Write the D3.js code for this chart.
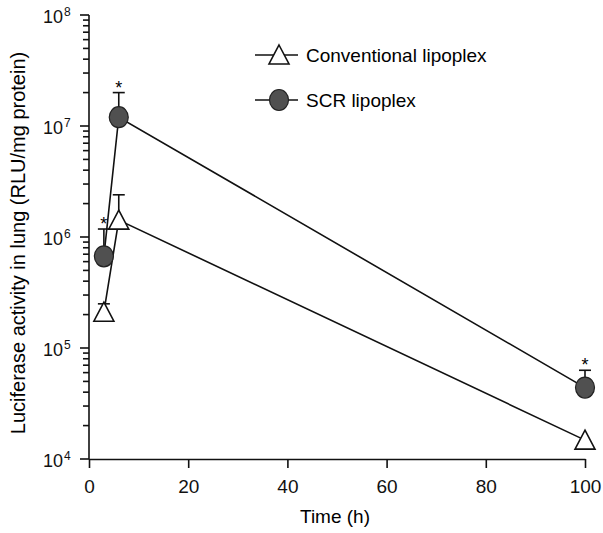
<!DOCTYPE html>
<html>
<head>
<meta charset="utf-8">
<title>Luciferase activity in lung</title>
<script src="https://d3js.org/d3.v7.min.js"></script>
<style>
  body { margin: 0; background: #fff; }
  svg { font-family: "Liberation Sans", Arial, Helvetica, sans-serif; }
  .axis path, .axis line { stroke: #111; stroke-width: 1.6; }
  .axis text { font-size: 19px; fill: #111; }
</style>
</head>
<body>
<div id="chart"></div>
<script>
// data (hours, RLU/mg protein)
const times = [3, 6, 100];
const conventional = [2.1e5, 1.42e6, 1.48e4];
const conventionalErr = [2.5e5, 2.4e6, null];
const scr = [6.7e5, 1.2e7, 4.4e4];
const scrErr = [1.18e6, 2.0e7, 6.3e4];
const scrStars = [true, true, true];

const xTicks = [0, 20, 40, 60, 80, 100];
const yDecades = [4, 5, 6, 7, 8];
const seriesNames = ["Conventional lipoplex", "SCR lipoplex"];

const width = 603, height = 533;

const svg = d3.select("#chart").append("svg")
    .attr("width", width)
    .attr("height", height);

let x = d3.scaleLinear().domain([0, 100]).range([89, 585]);
let y = d3.scaleLog().domain([1e4, 1e8]).range([459, 15]);

// x axis
const xAxis = svg.append("g")
    .attr("class", "axis")
    .attr("transform", "translate(0," + y(1e4) + ")")
    .call(d3.axisBottom(x).tickValues(xTicks).tickSize(9).tickSizeOuter(0).tickPadding(12));
xAxis.selectAll("text").attr("font-size", 19);

// y axis: major and minor ticks on the left
const minor = [];
yDecades.slice(0, -1).forEach(function(e) {
  for (let k = 2; k <= 9; k++) minor.push(k * Math.pow(10, e));
});
const yAxis = svg.append("g")
    .attr("class", "axis")
    .attr("transform", "translate(" + x(0) + ",0)");
yAxis.append("line")
    .attr("y1", y(1e8)).attr("y2", y(1e4));
yAxis.selectAll(".major")
  .data(yDecades)
  .enter().append("line")
    .attr("class", "major")
    .attr("x1", -9).attr("x2", 0)
    .attr("y1", d => y(Math.pow(10, d)))
    .attr("y2", d => y(Math.pow(10, d)));
yAxis.selectAll(".minor")
  .data(minor)
  .enter().append("line")
    .attr("class", "minor")
    .attr("x1", -6).attr("x2", 0)
    .attr("y1", d => y(d)).attr("y2", d => y(d));

yAxis.selectAll(".lab")
  .data(yDecades)
  .enter().append("text")
    .attr("class", "lab")
    .attr("x", -26)
    .attr("y", d => y(Math.pow(10, d)) + 8)
    .attr("text-anchor", "end")
    .style("font-size", "18px")
    .text("10");
yAxis.selectAll(".exp")
  .data(yDecades)
  .enter().append("text")
    .attr("class", "exp")
    .attr("x", -25)
    .attr("y", d => y(Math.pow(10, d)) + 1)
    .style("font-size", "12px")
    .text(d => d);

// axis titles
svg.append("text")
    .attr("x", 335).attr("y", 523)
    .attr("text-anchor", "middle")
    .attr("font-size", 19)
    .text("Time (h)");
svg.append("text")
    .attr("transform", "translate(25,243) rotate(-90)")
    .attr("text-anchor", "middle")
    .attr("font-size", 20)
    .text("Luciferase activity in lung (RLU/mg protein)");

const line = d3.line()
    .x(d => x(d[0]))
    .y(d => y(d[1]));

function drawSeries(vals, errs) {
  const pts = times.map((t, i) => [t, vals[i]]);
  svg.append("path")
      .datum(pts)
      .attr("d", line)
      .attr("fill", "none")
      .attr("stroke", "#111")
      .attr("stroke-width", 1.6);
  times.forEach(function(t, i) {
    if (errs[i] == null) return;
    const g = svg.append("g").attr("stroke", "#111").attr("stroke-width", 1.6);
    g.append("line")
        .attr("x1", x(t)).attr("x2", x(t))
        .attr("y1", y(vals[i])).attr("y2", y(errs[i]));
    g.append("line")
        .attr("x1", x(t) - 6).attr("x2", x(t) + 6)
        .attr("y1", y(errs[i])).attr("y2", y(errs[i]));
  });
}

function triangle(g, cx, cy) {
  g.append("path")
      .attr("d", "M" + cx + "," + (cy - 10) + "L" + (cx + 10) + "," + (cy + 9) +
                 "L" + (cx - 10) + "," + (cy + 9) + "Z")
      .attr("fill", "#fff")
      .attr("stroke", "#111")
      .attr("stroke-width", 1.6);
}

function blob(g, cx, cy) {
  g.append("ellipse")
      .attr("cx", cx).attr("cy", cy)
      .attr("rx", 9.5).attr("ry", 10.5)
      .attr("fill", "#505050")
      .attr("stroke", "#222")
      .attr("stroke-width", 1.2);
}

drawSeries(conventional, conventionalErr);
drawSeries(scr, scrErr);

const marks = svg.append("g");
times.forEach(function(t, i) {
  triangle(marks, x(t), y(conventional[i]));
  blob(marks, x(t), y(scr[i]));
  if (scrStars[i]) {
    marks.append("text")
        .attr("x", x(t)).attr("y", y(scrErr[i]) + 1)
        .attr("text-anchor", "middle")
        .attr("font-size", 18)
        .text("*");
  }
});

// legend
const legend = svg.append("g");
seriesNames.forEach(function(name, i) {
  const ly = 55 + i * 45;
  legend.append("line")
      .attr("x1", 255).attr("x2", 298)
      .attr("y1", ly).attr("y2", ly)
      .attr("stroke", "#111").attr("stroke-width", 1.6);
  if (i === 0) triangle(legend, 279, ly);
  else blob(legend, 279, ly);
  legend.append("text")
      .attr("x", 306).attr("y", ly + 7)
      .attr("font-size", 19)
      .text(name);
});
</script>
</body>
</html>
